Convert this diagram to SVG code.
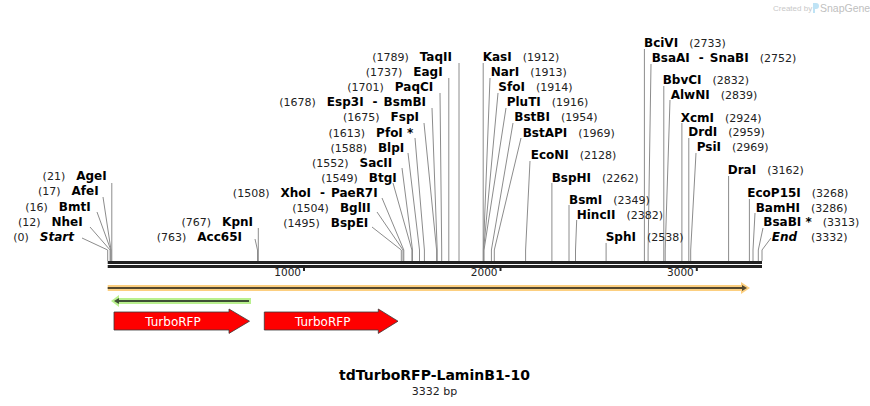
<svg xmlns="http://www.w3.org/2000/svg" width="870" height="406" viewBox="0 0 870 406">
<style>
.l{font-family:"DejaVu Sans",Verdana,sans-serif;font-size:12px;font-weight:bold;fill:#000}
.n{font-size:11px;font-weight:normal;fill:#222}
.i{font-style:italic}
.c line,.c polyline{stroke:#8c8c8c;stroke-width:1;fill:none}
.tk{font-family:"DejaVu Sans",Verdana,sans-serif;font-size:10.5px;fill:#222}
.ft{font-family:"DejaVu Sans",Verdana,sans-serif;font-size:12px;fill:#fff}
</style>
<rect width="870" height="406" fill="#fff"/>
<g id="watermark">
<text x="773" y="11" font-family="Liberation Sans,Arial,sans-serif" font-size="8" fill="#c8c8c8">Created by</text>
<path d="M813,3 h3 a3,3 0 0 1 0,6 h-1 v4 h-2 z" fill="#bfe3f5"/>
<text x="820" y="11.5" font-family="Liberation Sans,Arial,sans-serif" font-size="10.5" fill="#c0c0c0">SnapGene</text>
</g>
<g id="connectors" class="c">
<polyline points="82,238 107.7,250 107.7,261"/>
<polyline points="90,227 110.1,250 110.1,261"/>
<polyline points="97,212 110.8,250 110.8,261"/>
<polyline points="103,197 111,250 111,261"/>
<line x1="111.8" y1="183" x2="111.8" y2="261"/>
<polyline points="255,239 257.5,250 257.5,261"/>
<line x1="258.3" y1="228" x2="258.3" y2="261"/>
<polyline points="372,227 401.3,250 401.3,261"/>
<polyline points="377,212 403,250 403,261"/>
<polyline points="382,198 403.8,250 403.8,261"/>
<polyline points="393,183 411.9,250 411.9,261"/>
<polyline points="402,168 412.5,250 412.5,261"/>
<polyline points="408,153 419.5,250 419.5,261"/>
<polyline points="415,138 424.4,250 424.4,261"/>
<polyline points="424,123 436.6,250 436.6,261"/>
<polyline points="432,108 437.2,250 437.2,261"/>
<polyline points="440,93 441.7,250 441.7,261"/>
<line x1="448.8" y1="78" x2="448.8" y2="261"/>
<line x1="459" y1="63" x2="459" y2="261"/>
<line x1="483.2" y1="63" x2="483.2" y2="261"/>
<polyline points="490,78 483.4,250 483.4,261"/>
<polyline points="498,93 483.6,250 483.6,261"/>
<polyline points="506,108 484,250 484,261"/>
<polyline points="513,123 491.4,250 491.4,261"/>
<polyline points="521,138 494.3,250 494.3,261"/>
<polyline points="530,161 525.6,250 525.6,261"/>
<line x1="551.9" y1="183" x2="551.9" y2="261"/>
<line x1="569" y1="205" x2="569" y2="261"/>
<polyline points="576.7,220 575.5,250 575.5,261"/>
<line x1="606.1" y1="243" x2="606.1" y2="261"/>
<line x1="644.4" y1="49" x2="644.4" y2="261"/>
<polyline points="651,64 648.1,250 648.1,261"/>
<line x1="663.8" y1="86" x2="663.8" y2="261"/>
<polyline points="670,100 665.2,250 665.2,261"/>
<line x1="681.9" y1="123" x2="681.9" y2="261"/>
<line x1="688.8" y1="138" x2="688.8" y2="261"/>
<polyline points="696,153 690.7,250 690.7,261"/>
<line x1="728.6" y1="176" x2="728.6" y2="261"/>
<line x1="749.4" y1="199" x2="749.4" y2="261"/>
<polyline points="755,213 753,250 753,261"/>
<polyline points="763,228 758.3,250 758.3,261"/>
<polyline points="771,238 762,250 762,261"/>
</g>
<g id="backbone">
<rect x="107.7" y="261" width="654.3" height="3" fill="#222"/>
<rect x="107.7" y="265" width="654.3" height="3" fill="#222"/>
<rect x="303" y="267" width="2" height="4" fill="#222"/>
<rect x="499.5" y="267" width="2" height="4" fill="#222"/>
<rect x="695.8" y="267" width="2" height="4" fill="#222"/>
<text class="tk" x="301" y="276" text-anchor="end">1000</text>
<text class="tk" x="497.5" y="276" text-anchor="end">2000</text>
<text class="tk" x="693.8" y="276" text-anchor="end">3000</text>
</g>
<g id="enzymes">
<g id="e-Start"><text class="l" x="74" y="241" text-anchor="end"><tspan class="n">(0)</tspan><tspan class="i" dx="11">Start</tspan></text></g>
<g id="e-NheI"><text class="l" x="82.7" y="225.5" text-anchor="end"><tspan class="n">(12)</tspan><tspan dx="11">NheI</tspan></text></g>
<g id="e-BmtI"><text class="l" x="90.7" y="210.5" text-anchor="end"><tspan class="n">(16)</tspan><tspan dx="11">BmtI</tspan></text></g>
<g id="e-AfeI"><text class="l" x="98.7" y="195" text-anchor="end"><tspan class="n">(17)</tspan><tspan dx="11">AfeI</tspan></text></g>
<g id="e-AgeI"><text class="l" x="106.7" y="179.5" text-anchor="end"><tspan class="n">(21)</tspan><tspan dx="11">AgeI</tspan></text></g>
<g id="e-Acc65I"><text class="l" x="242" y="241" text-anchor="end"><tspan class="n">(763)</tspan><tspan dx="11">Acc65I</tspan></text></g>
<g id="e-KpnI"><text class="l" x="253" y="226" text-anchor="end"><tspan class="n">(767)</tspan><tspan dx="11">KpnI</tspan></text></g>
<g id="e-BspEI"><text class="l" x="368.3" y="227" text-anchor="end"><tspan class="n">(1495)</tspan><tspan dx="11">BspEI</tspan></text></g>
<g id="e-BglII"><text class="l" x="370.7" y="212" text-anchor="end"><tspan class="n">(1504)</tspan><tspan dx="11">BglII</tspan></text></g>
<g id="e-XhoI"><text class="l" x="377.7" y="196.9" text-anchor="end"><tspan class="n">(1508)</tspan><tspan dx="11">XhoI</tspan><tspan dx="9">-</tspan><tspan dx="6">PaeR7I</tspan></text></g>
<g id="e-BtgI"><text class="l" x="396.7" y="181.8" text-anchor="end"><tspan class="n">(1549)</tspan><tspan dx="11">BtgI</tspan></text></g>
<g id="e-SacII"><text class="l" x="392.3" y="166.7" text-anchor="end"><tspan class="n">(1552)</tspan><tspan dx="11">SacII</tspan></text></g>
<g id="e-BlpI"><text class="l" x="404.3" y="151.6" text-anchor="end"><tspan class="n">(1588)</tspan><tspan dx="11">BlpI</tspan></text></g>
<g id="e-PfoI"><text class="l" x="413.3" y="136.5" text-anchor="end"><tspan class="n">(1613)</tspan><tspan dx="11">PfoI *</tspan></text></g>
<g id="e-FspI"><text class="l" x="419" y="121.4" text-anchor="end"><tspan class="n">(1675)</tspan><tspan dx="11">FspI</tspan></text></g>
<g id="e-Esp3I"><text class="l" x="426" y="106.3" text-anchor="end"><tspan class="n">(1678)</tspan><tspan dx="11">Esp3I</tspan><tspan dx="9">-</tspan><tspan dx="6">BsmBI</tspan></text></g>
<g id="e-PaqCI"><text class="l" x="433.3" y="91.2" text-anchor="end"><tspan class="n">(1701)</tspan><tspan dx="11">PaqCI</tspan></text></g>
<g id="e-EagI"><text class="l" x="442.7" y="76.1" text-anchor="end"><tspan class="n">(1737)</tspan><tspan dx="11">EagI</tspan></text></g>
<g id="e-TaqII"><text class="l" x="452" y="61" text-anchor="end"><tspan class="n">(1789)</tspan><tspan dx="11">TaqII</tspan></text></g>
<g id="e-KasI"><text class="l" x="482.7" y="61">KasI<tspan class="n" dx="11">(1912)</tspan></text></g>
<g id="e-NarI"><text class="l" x="490.7" y="76.1">NarI<tspan class="n" dx="11">(1913)</tspan></text></g>
<g id="e-SfoI"><text class="l" x="498.3" y="91.2">SfoI<tspan class="n" dx="11">(1914)</tspan></text></g>
<g id="e-PluTI"><text class="l" x="506.7" y="106.3">PluTI<tspan class="n" dx="11">(1916)</tspan></text></g>
<g id="e-BstBI"><text class="l" x="514.3" y="121.4">BstBI<tspan class="n" dx="11">(1954)</tspan></text></g>
<g id="e-BstAPI"><text class="l" x="522.7" y="136.5">BstAPI<tspan class="n" dx="11">(1969)</tspan></text></g>
<g id="e-EcoNI"><text class="l" x="530.7" y="159">EcoNI<tspan class="n" dx="11">(2128)</tspan></text></g>
<g id="e-BspHI"><text class="l" x="551.7" y="181.5">BspHI<tspan class="n" dx="11">(2262)</tspan></text></g>
<g id="e-BsmI"><text class="l" x="569" y="203.5">BsmI<tspan class="n" dx="11">(2349)</tspan></text></g>
<g id="e-HincII"><text class="l" x="576.7" y="218.5">HincII<tspan class="n" dx="11">(2382)</tspan></text></g>
<g id="e-SphI"><text class="l" x="605.7" y="241">SphI<tspan class="n" dx="11">(2538)</tspan></text></g>
<g id="e-BciVI"><text class="l" x="644" y="47">BciVI<tspan class="n" dx="11">(2733)</tspan></text></g>
<g id="e-BsaAI"><text class="l" x="651.7" y="61.5">BsaAI<tspan dx="9">-</tspan><tspan dx="6">SnaBI</tspan><tspan class="n" dx="11">(2752)</tspan></text></g>
<g id="e-BbvCI"><text class="l" x="662.7" y="84">BbvCI<tspan class="n" dx="11">(2832)</tspan></text></g>
<g id="e-AlwNI"><text class="l" x="670.7" y="98.5">AlwNI<tspan class="n" dx="11">(2839)</tspan></text></g>
<g id="e-XcmI"><text class="l" x="680.7" y="121.5">XcmI<tspan class="n" dx="11">(2924)</tspan></text></g>
<g id="e-DrdI"><text class="l" x="688.3" y="136">DrdI<tspan class="n" dx="11">(2959)</tspan></text></g>
<g id="e-PsiI"><text class="l" x="696.7" y="151">PsiI<tspan class="n" dx="11">(2969)</tspan></text></g>
<g id="e-DraI"><text class="l" x="727.7" y="174">DraI<tspan class="n" dx="11">(3162)</tspan></text></g>
<g id="e-EcoP15I"><text class="l" x="747.3" y="197">EcoP15I<tspan class="n" dx="11">(3268)</tspan></text></g>
<g id="e-BamHI"><text class="l" x="755.7" y="211.5">BamHI<tspan class="n" dx="11">(3286)</tspan></text></g>
<g id="e-BsaBI"><text class="l" x="763.3" y="226">BsaBI *<tspan class="n" dx="11">(3313)</tspan></text></g>
<g id="e-End"><text class="l" x="771.7" y="241"><tspan class="i">End</tspan><tspan class="n" dx="14">(3332)</tspan></text></g>
</g>
<g id="f-orange">
<path d="M107.7,288 H743" stroke="#fccf80" stroke-width="6"/>
<polygon points="741,282 750,288 741,294" fill="#fccf80"/>
<path d="M107.7,288 H743" stroke="#54482e" stroke-width="2"/>
<polygon points="742,285 747,288 742,291" fill="#54482e"/>
</g>
<g id="f-green">
<path d="M118,301 H251" stroke="#b9f08e" stroke-width="6"/>
<polygon points="119,295 111,301 119,307" fill="#b9f08e"/>
<path d="M118,301 H249" stroke="#3d4f35" stroke-width="2"/>
<polygon points="119,298 114,301 119,304" fill="#3d4f35"/>
</g>
<g id="f-TurboRFP-1">
<polygon points="114,312 229,312 229,309 249.5,321.2 229,333.4 229,330 114,330" fill="#ff0000" stroke="#3a3a3a" stroke-width="0.8"/>
<text class="ft" x="173" y="325.5" text-anchor="middle">TurboRFP</text>
</g>
<g id="f-TurboRFP-2">
<polygon points="264.3,312 378.3,312 378.3,309 398,321.2 378.3,333.4 378.3,330 264.3,330" fill="#ff0000" stroke="#3a3a3a" stroke-width="0.8"/>
<text class="ft" x="322.7" y="325.5" text-anchor="middle">TurboRFP</text>
</g>
<g id="title">
<text x="434.5" y="380" text-anchor="middle" font-family="DejaVu Sans,Verdana,sans-serif" font-size="14" font-weight="bold" fill="#000">tdTurboRFP-LaminB1-10</text>
<text x="434.5" y="395" text-anchor="middle" font-family="DejaVu Sans,Verdana,sans-serif" font-size="11" fill="#222">3332 bp</text>
</g>
</svg>
